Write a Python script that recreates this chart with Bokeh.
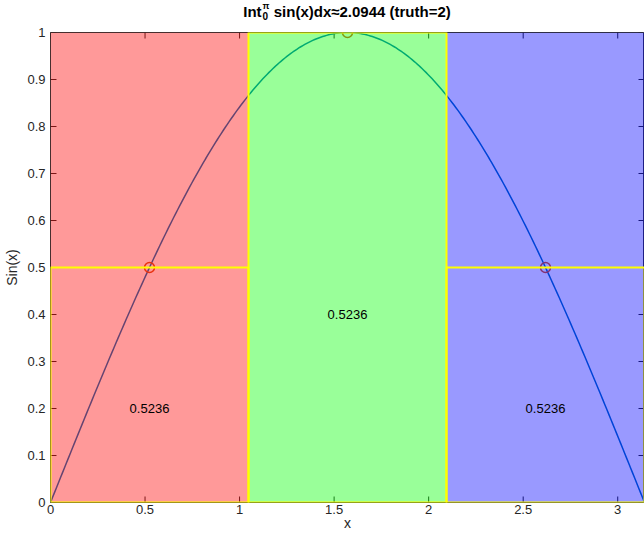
import numpy as np
from bokeh.plotting import figure
from bokeh.models import ColumnDataSource, FixedTicker, Range1d, Div
from bokeh.layouts import column
from bokeh.embed import file_html
from bokeh.resources import INLINE
from bokeh.core.properties import value

# ---- data ----
seg_left = [0.0, np.pi / 3, 2 * np.pi / 3]
seg_right = [np.pi / 3, 2 * np.pi / 3, np.pi]
seg_mid = [np.pi / 6, np.pi / 2, 5 * np.pi / 6]
seg_height = [0.5, 1.0, 0.5]
seg_area = ["0.5236", "0.5236", "0.5236"]
seg_label_y = [0.2, 0.4, 0.2]
seg_color = ["#ff0000", "#00ff00", "#0000ff"]

curve_x = np.linspace(0, np.pi, 300)
curve_y = np.sin(curve_x)

x_ticks = [0, 0.5, 1, 1.5, 2, 2.5, 3]
x_tick_labels = ["0", "0.5", "1", "1.5", "2", "2.5", "3"]
y_ticks = [0, 0.1, 0.2, 0.3, 0.4, 0.5, 0.6, 0.7, 0.8, 0.9, 1.0]
y_tick_labels = ["0", "0.1", "0.2", "0.3", "0.4", "0.5", "0.6", "0.7", "0.8", "0.9", "1"]

title_main = "Int"
title_sup = "π"
title_sub = "0"
title_rest = "sin(x)dx≈2.0944 (truth=2)"

FONT = "Liberation Sans"
TXT = "#262626"

p = figure(width=644, height=514, x_range=Range1d(0, np.pi), y_range=Range1d(0, 1),
           output_backend="svg", toolbar_location=None,
           min_border_left=50, min_border_right=0, min_border_top=12, min_border_bottom=32)
p.title.visible = False
p.grid.visible = False
p.background_fill_color = "white"
p.outline_line_color = "#333333"
p.outline_line_width = 1

for ax in (p.xaxis[0], p.yaxis[0]):
    ax.major_tick_in = 0
    ax.major_tick_out = 0
    ax.minor_tick_line_color = None
    ax.axis_line_color = None
    ax.major_label_text_font = FONT
    ax.major_label_text_font_size = "13px"
    ax.major_label_text_color = TXT
    ax.axis_label_text_font = FONT
    ax.axis_label_text_font_size = "14px"
    ax.axis_label_text_font_style = "normal"
    ax.axis_label_text_color = TXT
p.xaxis.ticker = FixedTicker(ticks=x_ticks)
p.xaxis.major_label_overrides = dict(zip(x_ticks, x_tick_labels))
p.xaxis.major_label_standoff = 2
p.xaxis.axis_label = "x"
p.xaxis.axis_label_standoff = -2
p.yaxis.ticker = FixedTicker(ticks=y_ticks)
p.yaxis.major_label_overrides = dict(zip(y_ticks, y_tick_labels))
p.yaxis.major_label_standoff = 5
p.yaxis.axis_label = "Sin(x)"
p.yaxis.axis_label_standoff = 4

# tick marks on all four sides (drawn under the translucent fills, clipped at frame)
tick_col = "#262626"
p.scatter(x=x_ticks, y=[0] * len(x_ticks), marker="dash", angle=np.pi / 2, size=12,
          line_color=tick_col, line_width=1)
p.scatter(x=x_ticks, y=[1] * len(x_ticks), marker="dash", angle=np.pi / 2, size=12,
          line_color=tick_col, line_width=1)
p.scatter(x=[0] * len(y_ticks), y=y_ticks, marker="dash", size=12,
          line_color=tick_col, line_width=1)
p.scatter(x=[np.pi] * len(y_ticks), y=y_ticks, marker="dash", size=12,
          line_color=tick_col, line_width=1)

# curve and midpoint markers
p.line(curve_x, curve_y, line_color="#0072BD", line_width=1.5)
p.scatter(x=seg_mid, y=seg_height, marker="circle", size=10, fill_color=None,
          line_color="#D95319", line_width=1.5)

src = ColumnDataSource(dict(left=seg_left, right=seg_right, mid=seg_mid, h=seg_height,
                            area=seg_area, ly=seg_label_y, color=seg_color,
                            bottom=[0] * 3, top=[1] * 3))
p.quad(left="left", right="right", bottom="bottom", top="top", fill_color="color",
       fill_alpha=0.4, line_color=None, source=src)
p.quad(left="left", right="right", bottom="bottom", top="h", fill_color=None,
       line_color="#FFFF00", line_width=2, source=src)
p.text(x="mid", y="ly", text="area", source=src, text_align="center", text_baseline="middle",
       text_font=value(FONT), text_font_size="13px", text_color="black")

title_html = (
    f'<div style="width:594px;margin-left:50px;text-align:center;font-family:\'{FONT}\';'
    f'font-weight:bold;font-size:15px;line-height:16px;color:black;padding-top:3px;white-space:nowrap;">'
    f'{title_main}<span style="position:relative;display:inline-block;width:8px;height:14px;">'
    f'<span style="position:absolute;left:1px;top:-1px;font-size:9px;line-height:9px;">{title_sup}</span>'
    f'<span style="position:absolute;left:1px;top:9px;font-size:10px;line-height:10px;">{title_sub}</span>'
    f'</span> {title_rest}</div>'
)
title_div = Div(text=title_html, width=644, height=20, margin=(0, 0, 0, 0))

layout = column(title_div, p, spacing=0)
open("out.html", "w").write(file_html(layout, INLINE))
